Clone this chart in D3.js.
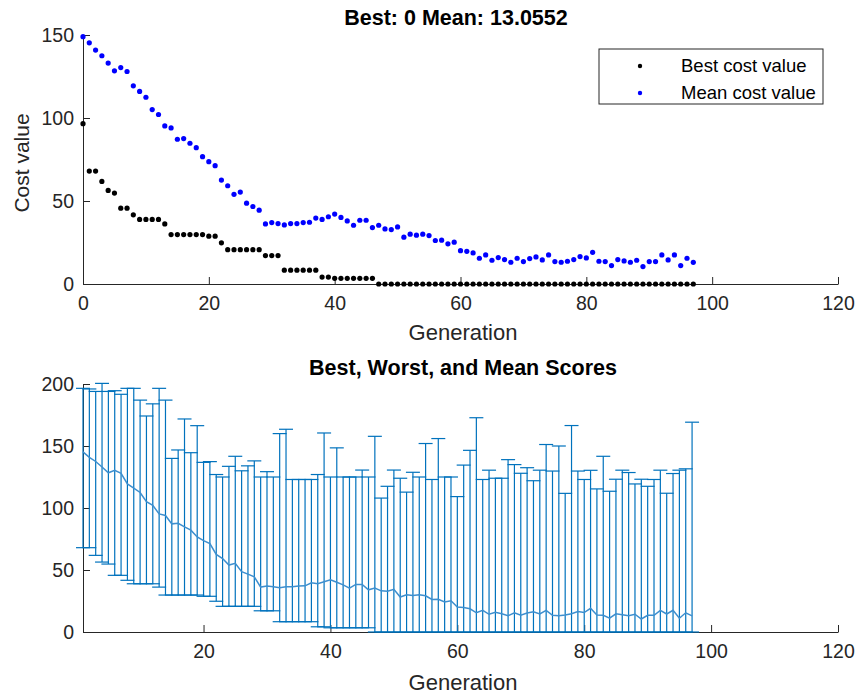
<!DOCTYPE html>
<html>
<head>
<meta charset="utf-8">
<script src="https://cdn.jsdelivr.net/npm/d3@7"></script>
<style>
  body { margin: 0; background: #fff; }
  svg { font-family: "Liberation Sans", Arial, Helvetica, sans-serif; }
  .axis text { fill: #262626; font-size: 19.5px; }
  .axis path, .axis line { stroke: #262626; stroke-width: 1; }
</style>
</head>
<body>
<div id="chart"></div>
<script>
// generations 0..97
var bestCost = [
  96.6, 68.0, 68.0, 61.8, 56.4, 54.8, 45.7, 45.7, 41.7, 38.9,
  38.9, 38.9, 38.9, 36.2, 29.8, 29.8, 29.8, 29.8, 29.8, 29.8,
  28.8, 28.8, 24.8, 20.7, 20.7, 20.7, 20.7, 20.7, 20.7, 17.1,
  17.1, 17.1, 8.3, 8.3, 8.3, 8.3, 8.3, 8.3, 4.2, 4.2,
  3.4, 3.4, 3.4, 3.4, 3.4, 3.4, 3.4, 0, 0, 0,
  0, 0, 0, 0, 0, 0, 0, 0, 0, 0,
  0, 0, 0, 0, 0, 0, 0, 0, 0, 0,
  0, 0, 0, 0, 0, 0, 0, 0, 0, 0,
  0, 0, 0, 0, 0, 0, 0, 0, 0, 0,
  0, 0, 0, 0, 0, 0, 0, 0
];
var meanCost = [
  149, 145.3, 140.9, 137.5, 133.1, 128.4, 130.4, 128.0, 119.4, 116.0,
  112.5, 105.1, 102.1, 95.2, 94.0, 87.2, 87.6, 84.8, 82.1, 76.7,
  73.7, 71.3, 62.6, 59.2, 54.0, 55.4, 48.7, 46.7, 44.5, 36.2,
  37.0, 36.4, 35.6, 36.4, 36.4, 37.0, 37.2, 39.7, 38.9, 40.5,
  42.1, 40.1, 38.0, 35.4, 38.4, 38.4, 34.0, 35.4, 33.2, 32.8,
  34.4, 28.2, 30.0, 29.4, 30.0, 29.2, 26.2, 26.4, 24.2, 25.2,
  20.1, 19.7, 18.7, 15.5, 17.5, 14.3, 15.9, 14.7, 13.1, 15.5,
  13.5, 15.3, 16.3, 14.5, 17.5, 13.5, 13.1, 13.7, 14.7, 16.5,
  15.7, 19.1, 13.7, 13.5, 11.1, 14.7, 13.9, 13.1, 14.3, 10.5,
  13.5, 13.5, 17.5, 14.5, 17.5, 11.1, 15.5, 13.0552
];
// worst score per generation 1..97 (top of each error bar)
var worstScore = [
  196.5, 196, 194, 200.5, 194, 194.6, 191.7, 196.5, 196.5, 187,
  174.2, 184, 196.5, 187, 140, 146.8, 171.8, 144.6, 166.4, 136.8,
  137.4, 127, 125, 133.6, 141.7, 130, 134, 138, 125, 129.3,
  125, 160, 163.5, 123, 123, 123, 123, 127, 160.5, 125,
  148.5, 125, 125, 125, 130.6, 125, 157.8, 108, 117.5, 130.6,
  124, 112.8, 128.8, 125, 152, 123, 156, 125, 125, 109.2,
  134.6, 146.5, 172.8, 123, 130.5, 124, 124, 139, 135, 128,
  132.5, 122, 130.5, 151.2, 129.8, 150, 111.8, 166.5, 129.8, 123,
  130.4, 115.4, 141.7, 113.5, 123.2, 130.5, 128.6, 119.4, 123.2, 117.5,
  123, 130.5, 111.9, 127.8, 130.5, 131.6, 169.2
];
var topXTicks = [0, 20, 40, 60, 80, 100, 120];
var topYTicks = [0, 50, 100, 150];
var botXTicks = [20, 40, 60, 80, 100, 120];
var botYTicks = [0, 50, 100, 150, 200];

var width = 863, height = 699;
var left = 83, right = 838;

var svg = d3.select("#chart").append("svg")
  .attr("width", width)
  .attr("height", height);

// ---- upper plot ----
var x1 = d3.scaleLinear().domain([0, 120]).range([left, right]);
var y1 = d3.scaleLinear().domain([0, 150]).range([284, 35]);

svg.append("g").attr("class", "axis")
  .attr("transform", "translate(0,284)")
  .call(d3.axisBottom(x1).tickValues(topXTicks).tickSizeInner(-7).tickSizeOuter(0).tickPadding(12));
svg.append("g").attr("class", "axis")
  .attr("transform", "translate(" + left + ",0)")
  .call(d3.axisLeft(y1).tickValues(topYTicks).tickSizeInner(-7).tickSizeOuter(0).tickPadding(9));

svg.append("g").selectAll("circle")
  .data(bestCost)
  .enter().append("circle")
  .attr("cx", (d, i) => x1(i))
  .attr("cy", d => y1(d))
  .attr("r", 2.6)
  .attr("fill", "#000");

svg.append("g").selectAll("circle")
  .data(meanCost)
  .enter().append("circle")
  .attr("cx", (d, i) => x1(i))
  .attr("cy", d => y1(d))
  .attr("r", 2.6)
  .attr("fill", "#0000ff");

svg.append("text")
  .attr("x", 456).attr("y", 25)
  .attr("text-anchor", "middle")
  .attr("font-weight", "bold").attr("font-size", 21.5)
  .attr("fill", "#000")
  .text("Best: " + bestCost[bestCost.length - 1] + " Mean: " + meanCost[meanCost.length - 1]);

svg.append("text")
  .attr("x", 463).attr("y", 340)
  .attr("text-anchor", "middle")
  .attr("font-size", 22).attr("fill", "#262626")
  .text("Generation");

svg.append("text")
  .attr("transform", "translate(29,163) rotate(-90)")
  .attr("text-anchor", "middle")
  .attr("font-size", 21).attr("fill", "#262626")
  .text("Cost value");

// legend
var lg = svg.append("g");
lg.append("rect")
  .attr("x", 599).attr("y", 49).attr("width", 224).attr("height", 55)
  .attr("fill", "#fff").attr("stroke", "#262626").attr("stroke-width", 1);
var legendItems = [["Best cost value", "#000"], ["Mean cost value", "#0000ff"]];
legendItems.forEach(function (it, i) {
  lg.append("circle").attr("cx", 640).attr("cy", 66 + i * 27).attr("r", 2.2).attr("fill", it[1]);
  lg.append("text").attr("x", 681).attr("y", 72 + i * 27)
    .attr("font-size", 18.5).attr("fill", "#000").text(it[0]);
});

// ---- lower plot ----
var x2 = d3.scaleLinear().domain([1, 120]).range([left, right]);
var y2 = d3.scaleLinear().domain([0, 200]).range([632, 384]);

svg.append("g").attr("class", "axis")
  .attr("transform", "translate(0,632)")
  .call(d3.axisBottom(x2).tickValues(botXTicks).tickSizeInner(-7).tickSizeOuter(0).tickPadding(12));
svg.append("g").attr("class", "axis")
  .attr("transform", "translate(" + left + ",0)")
  .call(d3.axisLeft(y2).tickValues(botYTicks).tickSizeInner(-7).tickSizeOuter(0).tickPadding(9));

var scores = worstScore.map(function (w, i) {
  return { gen: i + 1, worst: w, best: bestCost[i + 1], mean: meanCost[i + 1] };
});

var eb = svg.append("g").attr("stroke", "#0072bd").attr("stroke-width", 1.2).attr("fill", "none");
var capW = 7;
eb.selectAll(".v").data(scores).enter().append("line")
  .attr("x1", d => x2(d.gen)).attr("x2", d => x2(d.gen))
  .attr("y1", d => y2(d.best)).attr("y2", d => y2(d.worst));
eb.selectAll(".t").data(scores).enter().append("line")
  .attr("x1", d => x2(d.gen) - capW).attr("x2", d => x2(d.gen) + capW)
  .attr("y1", d => y2(d.worst)).attr("y2", d => y2(d.worst));
eb.selectAll(".b").data(scores).enter().append("line")
  .attr("x1", d => x2(d.gen) - capW).attr("x2", d => x2(d.gen) + capW)
  .attr("y1", d => y2(d.best)).attr("y2", d => y2(d.best));

var line = d3.line().x(d => x2(d.gen)).y(d => y2(d.mean));
svg.append("path")
  .datum(scores)
  .attr("d", line)
  .attr("fill", "none")
  .attr("stroke", "#3d8fcf")
  .attr("stroke-width", 1.5);

svg.append("text")
  .attr("x", 463).attr("y", 375)
  .attr("text-anchor", "middle")
  .attr("font-weight", "bold").attr("font-size", 21.5)
  .attr("fill", "#000")
  .text("Best, Worst, and Mean Scores");

svg.append("text")
  .attr("x", 463).attr("y", 690)
  .attr("text-anchor", "middle")
  .attr("font-size", 22).attr("fill", "#262626")
  .text("Generation");
</script>
</body>
</html>
